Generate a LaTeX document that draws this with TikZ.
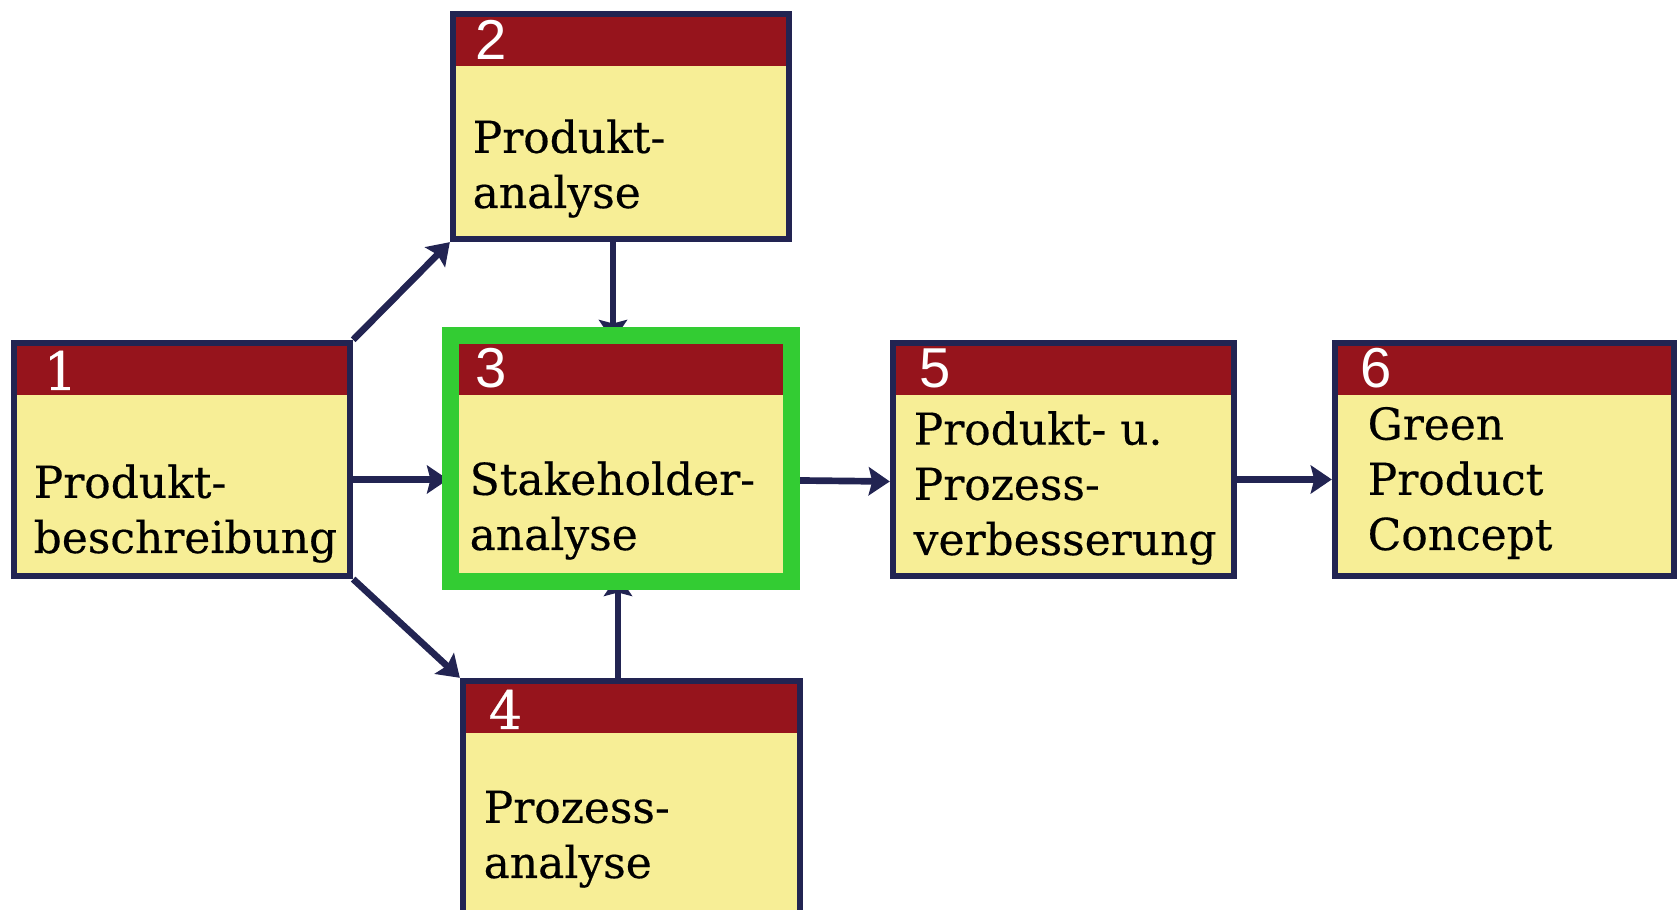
\documentclass[tikz,border=0pt]{standalone}
\usepackage{fontspec}
\setmainfont{DejaVu Serif}[FakeBold=0.4]
\newfontfamily\numfont{Liberation Sans}
\usetikzlibrary{arrows.meta,positioning,backgrounds}

\definecolor{hdrred}{RGB}{150,20,28}
\definecolor{boxyellow}{RGB}{247,238,150}
\definecolor{boxnavy}{RGB}{34,36,82}
\definecolor{hlgreen}{RGB}{51,204,51}

\begin{document}
\begin{tikzpicture}[
      line join=miter, >=Stealth,
      stepbox/.style={rectangle, fill=boxyellow, draw=boxnavy,
        line width=1.8pt, inner sep=0pt,
        path picture={\fill[hdrred] (path picture bounding box.north west)
          rectangle ([yshift=-0.52cm]path picture bounding box.north east);}},
      hlbox/.style={rectangle, fill=boxyellow, draw=hlgreen,
        line width=4.8pt, inner sep=0pt,
        path picture={\fill[hdrred] (path picture bounding box.north west)
          rectangle ([yshift=-0.6cm]path picture bounding box.north east);}},
      numtxt/.style={text=white, inner sep=0pt,
        font=\numfont\fontsize{16}{18}\selectfont},
      numser/.style={text=white, inner sep=0pt,
        font=\fontsize{15}{18}\selectfont},
      bodytxt/.style={align=left, inner sep=0pt,
        font=\fontsize{12.5}{15.7}\selectfont},
      arr/.style={draw=boxnavy, line width=1.9pt,
        -{Stealth[length=6pt,width=8pt,inset=1pt]}}
    ]

    \useasboundingbox (0,0) rectangle (16.79,9.10);

    % ------------------ Boxes ------------------
    \node[stepbox, minimum width=3.36cm, minimum height=2.33cm]
    (b1) at (1.82,4.505) {};
    \node[stepbox, minimum width=3.36cm, minimum height=2.25cm]
    (b2) at (6.21,7.835) {};
    \node[hlbox, minimum width=3.41cm, minimum height=2.46cm]
    (b3) at (6.21,4.515) {};
    \node[stepbox, minimum width=3.37cm, minimum height=2.33cm]
    (b4) at (6.315,1.125) {};
    \node[stepbox, minimum width=3.41cm, minimum height=2.33cm]
    (b5) at (10.635,4.505) {};
    \node[stepbox, minimum width=3.39cm, minimum height=2.33cm]
    (b6) at (15.045,4.505) {};

    % ------------------ Numbers ------------------
    \node[numser, anchor=base west] (n1) at (0.43,5.20) {1};
    \node[numtxt, anchor=base west] (n2) at (4.75,8.50) {2};
    \node[numtxt, anchor=base west] (n3) at (4.75,5.22) {3};
    \node[numser, anchor=base west] (n4) at (4.88,1.81) {4};
    \node[numtxt, anchor=base west] (n5) at (9.19,5.22) {5};
    \node[numtxt, anchor=base west] (n6) at (13.60,5.22) {6};

    % ------------------ Texts (anchored at last line) ------------------
    \node[bodytxt, anchor=base west] (t1) at (0.33,3.57)
    {Produkt-\\beschreibung};
    \node[bodytxt, anchor=base west] (t2) at (4.72,7.02)
    {Produkt-\\analyse};
    \node[bodytxt, anchor=base west] (t3) at (4.69,3.60)
    {Stakeholder-\\analyse};
    \node[bodytxt, anchor=base west] (t4) at (4.83,0.32)
    {Prozess-\\analyse};
    \node[bodytxt, anchor=base west] (t5) at (9.13,3.55)
    {Produkt- u.\\Prozess-\\verbesserung};
    \node[bodytxt, anchor=base west] (t6) at (13.67,3.60)
    {Green\\Product\\Concept};

    % ------------------ Connectors ------------------
    \begin{scope}[on background layer]
      \draw[arr] (b1.north east) -- (b2.south west);
      \draw[arr] ([yshift=-0.2cm]b1.east) --
      ([yshift=-0.21cm,xshift=0.06cm]b3.west);
      \draw[arr] (b1.south east) -- (b4.north west);
      \draw[arr] ([xshift=-0.08cm]b2.south) --
      ([xshift=-0.08cm,yshift=-0.14cm]b3.north);
      \draw[arr] ([xshift=-0.135cm]b4.north) --
      ([xshift=-0.03cm,yshift=0.15cm]b3.south);
      \draw[arr] ([yshift=-0.22cm]b3.east) -- ([yshift=-0.22cm]b5.west);
      \draw[arr] ([yshift=-0.2cm]b5.east) -- ([yshift=-0.2cm]b6.west);
    \end{scope}

  \end{tikzpicture}
\end{document}
